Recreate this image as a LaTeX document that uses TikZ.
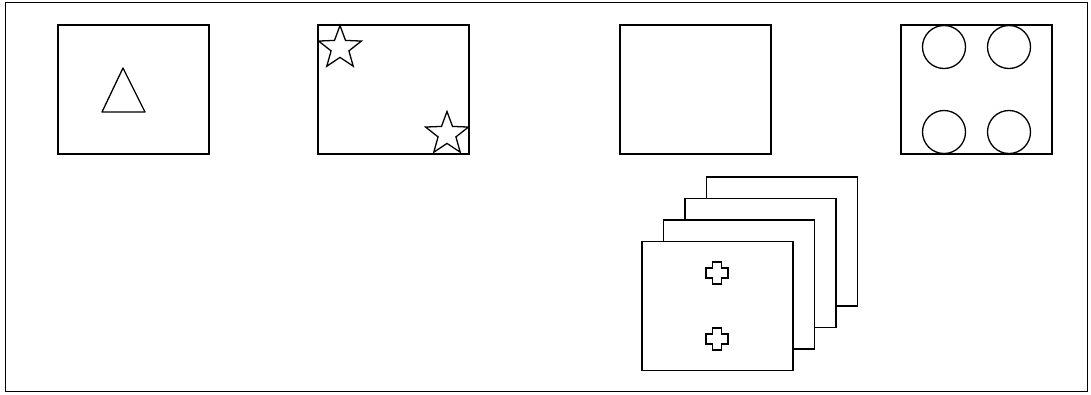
\documentclass[tikz,border=0pt]{standalone}
\usepackage{tikz}
\usetikzlibrary{shapes.geometric, positioning}
\tikzset{
    panel/.style={rectangle, draw=black, fill=white, minimum width=151pt, minimum height=129pt, inner sep=0pt, line width=1.4pt},
    mark star/.style={star, star points=5, star point ratio=2.4, draw=black, fill=white, minimum size=45pt, inner sep=0pt, line width=1.3pt},
    mark dot/.style={circle, draw=black, minimum size=43pt, inner sep=0pt, line width=1.3pt},
    outline/.style={draw=black, line width=1.3pt}
}

\begin{document}
\begin{tikzpicture}[x=1pt, y=-1pt]
\useasboundingbox (0,0) rectangle (1091,394);

% outer frame
\draw[outline, line width=1.5pt] (5.5,2.5) rectangle (1087.5,391.5);

% top row
\node[panel] (p1) at (133.5,89.5) {};
\node[panel] (p2) at (393.5,89.5) {};
\node[panel] (p3) at (695.5,89.5) {};
\node[panel] (p4) at (976.5,89.5) {};

% triangle
\draw[outline, line join=round] (123,68) -- (145,112) -- (102,112) -- cycle;

% stars
\node[mark star] (s1) at (340,48) {};
\node[mark star] (s2) at (447,134) {};

% circles
\node[mark dot] (c1) at (944,47) {};
\node[mark dot] (c2) at (1009,47) {};
\node[mark dot] (c3) at (944,132) {};
\node[mark dot] (c4) at (1009,132) {};

% stack of frames, back to front
\foreach \k in {3,2,1,0}
  \node[panel] (f\k) at (717.5+21.5*\k, 306-21.5*\k) {};

% crosses
\foreach \cy/\nm in {273/x1, 339/x2} {
  \coordinate (\nm) at (717,\cy);
  \draw[outline] (\nm) ++(-4.5,-11) -- ++(9,0) -- ++(0,6) -- ++(6.5,0) -- ++(0,10)
    -- ++(-6.5,0) -- ++(0,6) -- ++(-9,0) -- ++(0,-6) -- ++(-6.5,0) -- ++(0,-10)
    -- ++(6.5,0) -- cycle;
}

\end{tikzpicture}
\end{document}
